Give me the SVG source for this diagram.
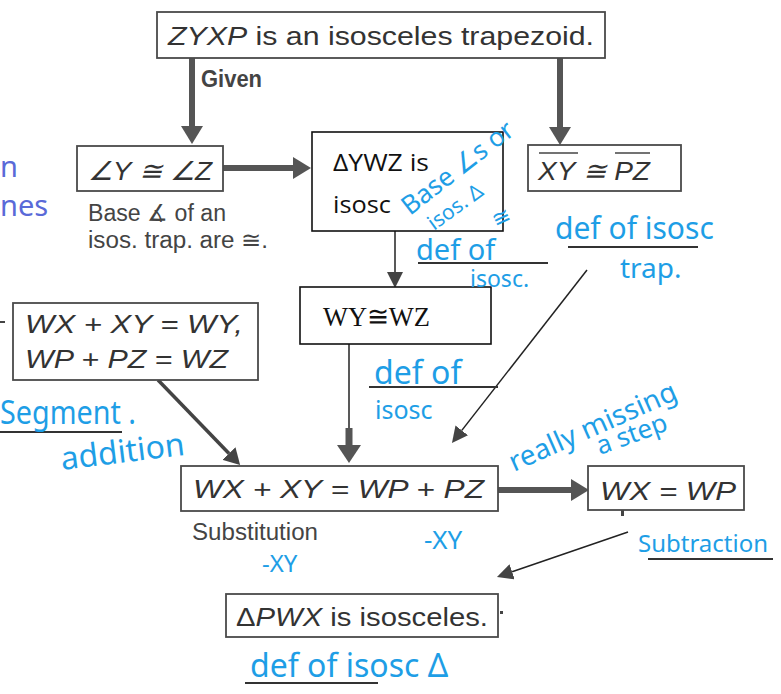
<svg xmlns="http://www.w3.org/2000/svg" width="781" height="694" viewBox="0 0 781 694">
<style>
  .sbox{fill:#fff;stroke:#4a4a4a;stroke-width:1.8}
  .tbox{fill:#fff;stroke:#111;stroke-width:1.6}
  .math{font-family:"Liberation Sans",Arial,sans-serif;font-size:26px;fill:#333}
  .it{font-style:italic}
  .note{font-family:"Liberation Sans",Arial,sans-serif;font-size:23px;fill:#444}
  .calib{font-family:"Open Sans","Liberation Sans",sans-serif;font-size:24px;fill:#111}
  .serif{font-family:"Liberation Serif","Times New Roman",serif;font-size:28px;fill:#111}
  .hw{font-family:"Noto Sans","DejaVu Sans",sans-serif;fill:#1e9ee6}
  .hwp{font-family:"Noto Sans","DejaVu Sans",sans-serif;fill:#5a6ad8}
  .thick{stroke:#555;stroke-width:6;fill:none}
  .mid{stroke:#444;stroke-width:3.5;fill:none}
  .thin{stroke:#222;stroke-width:1.5;fill:none}
  .ul{stroke:#333;stroke-width:2}
</style>
<defs>
  <marker id="hThick" markerUnits="userSpaceOnUse" markerWidth="20" markerHeight="22" refX="0" refY="11" orient="auto">
    <path d="M0,0 L18,11 L0,22 z" fill="#555"/>
  </marker>
  <marker id="hMid" markerUnits="userSpaceOnUse" markerWidth="18" markerHeight="18" refX="0" refY="9" orient="auto">
    <path d="M0,0 L16,9 L0,18 z" fill="#444"/>
  </marker>
  <marker id="hThin" markerUnits="userSpaceOnUse" markerWidth="18" markerHeight="16" refX="0" refY="8" orient="auto">
    <path d="M0,0 L16,8 L0,16 z" fill="#444"/>
  </marker>
  <marker id="hBig" markerUnits="userSpaceOnUse" markerWidth="20" markerHeight="24" refX="0" refY="12" orient="auto">
    <path d="M0,0 L18,12 L0,24 z" fill="#555"/>
  </marker>
</defs>
<rect width="781" height="694" fill="#fff"/>

<g id="connectors">
  <line class="thick" x1="192" y1="58" x2="192" y2="126" marker-end="url(#hThick)"/>
  <line class="thick" x1="560" y1="58" x2="560" y2="127" marker-end="url(#hThick)"/>
  <line class="thick" x1="223" y1="168" x2="293" y2="168" marker-end="url(#hThick)"/>
  <line class="thin" x1="395" y1="231" x2="395" y2="272" marker-end="url(#hThin)"/>
  <line class="thin" x1="349" y1="344" x2="349" y2="430"/>
  <line stroke="#555" stroke-width="7" x1="349" y1="428" x2="349" y2="445" marker-end="url(#hBig)"/>
  <line class="mid" x1="158" y1="380" x2="229" y2="453.5" marker-end="url(#hMid)"/>
  <line class="thin" x1="587" y1="270" x2="461.8" y2="430.4" marker-end="url(#hThin)"/>
  <line class="thick" x1="498" y1="490" x2="571" y2="490" marker-end="url(#hThick)"/>
  <line class="thin" x1="628" y1="532" x2="512.1" y2="571.8" marker-end="url(#hThin)"/>
  <rect x="621" y="510" width="3" height="6" fill="#444"/>
  <rect x="500" y="611" width="3" height="3" fill="#444"/>
  <line stroke="#444" stroke-width="2" x1="0" y1="322" x2="5" y2="322"/>
</g>

<g id="n_top">
  <rect class="sbox" x="157" y="12" width="448" height="46"/>
  <text class="math" x="168" y="45" textLength="426" lengthAdjust="spacingAndGlyphs"><tspan class="it">ZYXP</tspan> is an isosceles trapezoid.</text>
  <text class="note" x="201" y="87" font-weight="bold" textLength="61" lengthAdjust="spacingAndGlyphs">Given</text>
</g>

<g id="n_angles">
  <rect class="sbox" x="77" y="146" width="146" height="45"/>
  <text class="math it" x="88" y="180" textLength="124" lengthAdjust="spacingAndGlyphs">∠Y ≅ ∠Z</text>
  <text class="note" x="88" y="221" textLength="138" lengthAdjust="spacingAndGlyphs">Base ∡ of an</text>
  <text class="note" x="88" y="248" textLength="180" lengthAdjust="spacingAndGlyphs">isos. trap. are ≅.</text>
</g>

<g id="n_ywz">
  <rect class="tbox" x="312" y="132" width="191" height="99"/>
  <text class="calib" x="333" y="171" textLength="96" lengthAdjust="spacingAndGlyphs">ΔYWZ is</text>
  <text class="calib" x="333" y="213" textLength="58" lengthAdjust="spacingAndGlyphs">isosc</text>
</g>

<g id="n_xypz">
  <rect class="sbox" x="528" y="145" width="153" height="46"/>
  <text class="math it" x="538" y="180" textLength="112" lengthAdjust="spacingAndGlyphs">XY ≅ PZ</text>
  <line stroke="#444" stroke-width="1.5" x1="539" y1="153" x2="578" y2="153"/>
  <line stroke="#444" stroke-width="1.5" x1="615" y1="153" x2="650" y2="153"/>
</g>

<g id="n_wywz">
  <rect class="tbox" x="300" y="287" width="191" height="57"/>
  <text class="serif" x="323" y="326" textLength="107" lengthAdjust="spacingAndGlyphs">WY≅WZ</text>
</g>

<g id="n_segadd">
  <rect class="sbox" x="13" y="303" width="245" height="77"/>
  <text class="math it" x="25" y="333" textLength="218" lengthAdjust="spacingAndGlyphs">WX + XY = WY,</text>
  <text class="math it" x="25" y="368" textLength="203" lengthAdjust="spacingAndGlyphs">WP + PZ = WZ</text>
</g>

<g id="n_subst">
  <rect class="sbox" x="181" y="466" width="317" height="45"/>
  <text class="math it" x="193" y="498" textLength="291" lengthAdjust="spacingAndGlyphs">WX + XY = WP + PZ</text>
  <text class="note" x="192" y="540" textLength="126" lengthAdjust="spacingAndGlyphs">Substitution</text>
</g>

<g id="n_wxwp">
  <rect class="sbox" x="588" y="466" width="156" height="44"/>
  <text class="math it" x="600" y="500" textLength="136" lengthAdjust="spacingAndGlyphs">WX = WP</text>
</g>

<g id="n_pwx">
  <rect class="sbox" x="226" y="594" width="272" height="43"/>
  <text class="math" x="236" y="626" textLength="252" lengthAdjust="spacingAndGlyphs">Δ<tspan class="it">PWX</tspan> is isosceles.</text>
</g>

<g id="annotations">
  <line class="ul" x1="568" y1="247" x2="698" y2="247"/>
  <line class="ul" x1="418" y1="263" x2="548" y2="263"/>
  <line class="ul" x1="369" y1="387" x2="498" y2="387"/>
  <line class="ul" x1="0" y1="432" x2="122" y2="432"/>
  <line class="ul" x1="648" y1="559" x2="773" y2="559"/>
  <line class="ul" x1="245" y1="683" x2="378" y2="683"/>

  <text class="hwp" x="0" y="177" font-size="29">n</text>
  <text class="hwp" x="0" y="216" font-size="29">nes</text>

  <text class="hw" font-size="26" transform="translate(410,216) rotate(-38)">Base ∠s or</text>
  <text class="hw" font-size="21" transform="translate(434,231) rotate(-36)">isos. Δ</text>
  <text class="hw" font-size="22" transform="translate(496,228) rotate(-25)">≅</text>
  <text class="hw" font-size="29" x="416" y="260">def of</text>
  <text class="hw" font-size="23" x="470" y="287">isosc.</text>

  <text class="hw" font-size="30" x="555" y="239">def of isosc</text>
  <text class="hw" font-size="28" x="620" y="278">trap.</text>

  <text class="hw" font-size="32" x="374" y="384">def of</text>
  <text class="hw" font-size="25" x="375" y="419">isosc</text>

  <text class="hw" font-size="32" x="0" y="424" textLength="136" lengthAdjust="spacingAndGlyphs">Segment .</text>
  <text class="hw" font-size="32" transform="translate(62,470) rotate(-7)">addition</text>

  <text class="hw" font-size="28" transform="translate(514,472) rotate(-24)">really missing</text>
  <text class="hw" font-size="26" transform="translate(600,455) rotate(-20)">a step</text>

  <text class="hw" font-size="24" x="262" y="572">-XY</text>
  <text class="hw" font-size="26" x="424" y="549">-XY</text>
  <text class="hw" font-size="24" x="638" y="552">Subtraction</text>

  <text class="hw" font-size="32" x="250" y="677">def of isosc Δ</text>
</g>
</svg>
